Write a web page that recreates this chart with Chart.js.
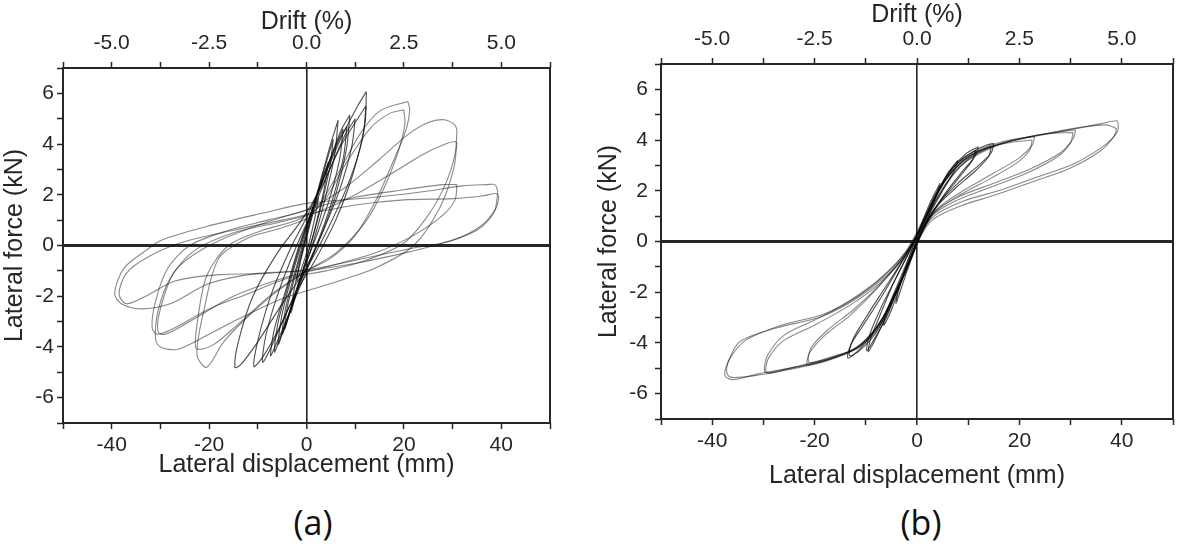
<!DOCTYPE html>
<html>
<head>
<meta charset="utf-8">
<script src="https://cdn.jsdelivr.net/npm/chart.js@4.4.1/dist/chart.umd.min.js"></script>
<style>
  html, body { margin: 0; padding: 0; background: #fff; }
  body { width: 1179px; height: 558px; position: relative; overflow: hidden; }
  .box { position: absolute; top: 0; }
  #boxA { left: 0; width: 590px; height: 484px; }
  #boxB { left: 590px; width: 589px; height: 495px; }
  .tag { position: absolute; top: 499px; font-family: 'Open Sans', sans-serif; font-size: 34px; color: #111; transform: translateX(-50%); }
</style>
</head>
<body>
<div class="box" id="boxA"><canvas id="chartA"></canvas></div>
<div class="box" id="boxB"><canvas id="chartB"></canvas></div>
<div class="tag" style="left:313px">(a)</div>
<div class="tag" style="left:921px">(b)</div>
<script>
// labelled tick values
const dispTicks = [-40, -20, 0, 20, 40];
const driftTicks = [-5.0, -2.5, 0.0, 2.5, 5.0];
const forceTicks = [-6, -4, -2, 0, 2, 4, 6];

// specimen (a): loops as [displacement (mm), force (kN)]
const a01 = [[2.5,1.9],[1.5,0.9],[0,-0.3],[-1.2,-1.0],[-2,-1.4],[-1.2,-0.6],[0,0.3],[1.4,1.3],[2.5,1.9]];
const a02 = [[4.5,3.3],[3.6,2.2],[1.5,0.5],[0,-0.5],[-2,-1.8],[-3.2,-2.65],[-2.4,-1.6],[-0.8,-0.2],[0.8,1.0],[2.8,2.4],[4.5,3.3]];
const a03 = [[6.5,4.95],[5.8,3.6],[3.5,1.6],[1,-0.1],[-1.5,-1.5],[-3.5,-2.7],[-5,-3.5],[-4.2,-2.4],[-2,-0.8],[0,0.6],[2.5,2.3],[4.8,3.9],[6.5,4.95]];
const a04 = [[8.9,5.15],[8.2,3.8],[6,2.0],[3,0.4],[0,-1.0],[-3,-2.4],[-5.5,-3.7],[-6.6,-4.2],[-5.8,-3.0],[-3.5,-1.4],[-1,0.2],[1.5,1.6],[4.5,3.2],[7,4.5],[8.9,5.15]];
const a05 = [[8.3,4.7],[7.6,3.5],[5,1.6],[2,0],[-1,-1.3],[-4,-2.9],[-6.5,-4.0],[-7.4,-4.35],[-6.6,-3.3],[-4,-1.6],[-1.5,0],[1,1.3],[4,2.9],[6.5,4.1],[8.3,4.7]];
const a06 = [[12.3,6.07],[12.0,4.8],[9.5,2.8],[6,1.0],[2,-0.5],[-2,-1.8],[-6,-3.4],[-9,-4.4],[-10.8,-4.77],[-9.8,-3.6],[-7,-1.8],[-3,0],[0,1.1],[3,2.4],[7,4.2],[10.5,5.5],[12.3,6.07]];
const a07 = [[12.2,5.5],[11.5,4.2],[8.5,2.4],[4,0.5],[0,-0.9],[-5,-2.3],[-10,-3.8],[-13.5,-4.7],[-14.7,-4.8],[-14,-3.8],[-11,-2.0],[-6,-0.3],[-1,1.0],[3,2.3],[7,3.9],[10.5,5.0],[12.2,5.5]];
const a08 = [[20.8,5.68],[21.2,5.35],[20.5,4.6],[18,3.4],[14.3,1.8],[10,0.4],[5,-0.5],[0,-1.0],[-6,-1.8],[-12,-2.8],[-17,-3.8],[-20.5,-4.8],[-22.5,-4.3],[-21,-2.5],[-18,-0.5],[-12,0.3],[-5,0.7],[1,1.2],[6.5,2.85],[11,4.4],[15,5.3],[20.8,5.68]];
const a09 = [[20,5.35],[20.2,4.8],[19,3.8],[16,2.3],[12,0.9],[6,-0.3],[0,-1.0],[-7,-1.9],[-14,-3.1],[-19,-3.9],[-22,-4.1],[-22.8,-4.0],[-22.4,-3.0],[-20.5,-1.2],[-16,0],[-9,0.6],[-2,1.0],[3,1.6],[8,3.2],[13,4.6],[17,5.2],[20,5.35]];
const a10 = [[30.9,4.5],[30.5,3.6],[28.5,2.4],[25,1.2],[20,0.1],[12,-0.6],[4,-1.0],[-4,-1.3],[-12,-1.9],[-20,-2.5],[-26.6,-3.2],[-30.5,-3.5],[-31.7,-3.25],[-31,-2.2],[-28.5,-0.9],[-24,0],[-16,0.6],[-8,1.0],[0,1.4],[8,2.3],[15,3.4],[21,4.4],[25,4.85],[28.2,4.96],[30.5,4.75],[30.9,4.5]];
const a11 = [[30.9,4.05],[30.2,3.0],[27.4,1.5],[22,0],[14,-0.9],[5,-1.5],[-5,-2.1],[-14,-2.9],[-21,-3.6],[-26.6,-4.1],[-30,-4.0],[-31,-3.7],[-30.5,-2.6],[-28,-1.3],[-23,-0.2],[-15,0.5],[-6,0.9],[2,1.3],[10,2.0],[18,2.9],[24,3.6],[28.5,4.0],[30.5,4.1],[30.9,4.05]];
const a12 = [[39.3,2.13],[38.5,1.3],[35,0.6],[28,0.1],[20,-0.3],[10,-0.7],[0,-1.0],[-10,-1.1],[-20,-1.5],[-28,-2.3],[-34,-2.5],[-38,-2.3],[-39.4,-1.88],[-37.5,-0.9],[-33,-0.2],[-29.7,0.22],[-20.5,0.75],[-8.9,1.28],[0.3,1.67],[14,1.9],[25,2.15],[32,2.35],[37,2.4],[38.7,2.4],[39.3,2.13]];
const a13 = [[39.5,1.93],[39,1.5],[36,0.8],[30,0.2],[22,-0.1],[12,-0.5],[2,-0.9],[-8,-1.1],[-18,-1.15],[-27,-1.4],[-33,-2.0],[-37,-2.3],[-38.5,-1.9],[-37,-1.1],[-33,-0.5],[-26,0.1],[-15,0.6],[-5,1.0],[2,1.3],[10,1.6],[20,1.8],[30,1.85],[36,1.95],[39,2.05],[39.5,1.93]];
const a14 = [[7.5,4.6],[6.8,3.4],[4.5,1.7],[1.5,0.1],[-1.5,-1.4],[-4,-2.9],[-5.8,-3.9],[-5.1,-2.8],[-3,-1.2],[-0.5,0.4],[2,1.9],[5,3.5],[7.5,4.6]];
const a15 = [[10,5.0],[9.3,3.9],[7,2.3],[3.5,0.6],[0,-0.9],[-3.5,-2.4],[-7,-3.9],[-9,-4.6],[-8.3,-3.5],[-5.5,-1.7],[-2,0],[1.5,1.5],[5,3.1],[8,4.4],[10,5.0]];
const a16 = [[5.5,4.2],[4.8,3.1],[2.8,1.4],[0.5,-0.2],[-1.8,-1.6],[-4.5,-3.3],[-3.8,-2.3],[-1.5,-0.6],[0.8,1.0],[3.2,2.7],[5.5,4.2]];
const a17 = [[30.9,2.4],[30.5,1.8],[28,1.2],[22,0.4],[14,-0.3],[5,-0.8],[-5,-1.3],[-15,-2.0],[-24,-3.0],[-29,-3.5],[-30.5,-3.4],[-30,-2.5],[-27,-1.0],[-20,0],[-10,0.8],[0,1.4],[10,1.9],[20,2.2],[28,2.4],[30.9,2.4]];

// specimen (b)
const b01 = [[4.5,2.3],[3.8,1.8],[2,0.9],[0,-0.1],[-2,-1.2],[-4.1,-2.43],[-3.5,-1.8],[-1.5,-0.6],[0.5,0.5],[2.5,1.5],[4.5,2.3]];
const b02 = [[8,3.2],[7.3,2.8],[5,2.0],[2,0.9],[0,0],[-2.5,-1.3],[-5,-2.7],[-6.5,-3.3],[-6,-2.8],[-4,-1.8],[-1.5,-0.6],[1,0.6],[3.5,1.7],[6,2.7],[8,3.2]];
const b03 = [[12,3.74],[11.3,3.35],[9,2.8],[5.5,1.9],[2,0.8],[0,-0.1],[-2.5,-1.3],[-5.5,-2.7],[-8,-3.8],[-9.5,-4.35],[-9,-3.8],[-7,-2.8],[-4.5,-1.6],[-1.5,-0.4],[1,0.7],[3.5,1.8],[6.5,2.8],[9.5,3.45],[12,3.74]];
const b04 = [[11.5,3.6],[10.8,3.2],[8.5,2.6],[5,1.7],[1.5,0.6],[-0.5,-0.3],[-3,-1.5],[-6,-3.0],[-8.5,-3.9],[-9.8,-4.3],[-9.3,-3.7],[-7,-2.6],[-4,-1.4],[-1,-0.2],[1.5,0.9],[4,2.0],[7,2.9],[9.5,3.35],[11.5,3.6]];
const b05 = [[15,3.87],[14.5,3.5],[12,3.0],[8,2.3],[4,1.45],[1,0.45],[-1.2,-0.6],[-4,-1.9],[-7.5,-3.3],[-11,-4.2],[-13.5,-4.6],[-13,-4.1],[-10.5,-3.3],[-7,-2.2],[-3.5,-1.0],[0,0.2],[2.5,1.3],[5,2.3],[8,3.1],[11,3.55],[13.5,3.8],[15,3.87]];
const b06 = [[14.5,3.75],[14,3.35],[11.5,2.8],[7.5,2.1],[3.5,1.3],[0.5,0.3],[-1.5,-0.8],[-4.5,-2.2],[-8,-3.6],[-11.5,-4.35],[-13.2,-4.5],[-12.6,-3.9],[-10,-3.0],[-6.5,-1.9],[-3,-0.8],[0.3,0.4],[3,1.5],[5.5,2.4],[8.5,3.1],[11.5,3.5],[14.5,3.75]];
const b07 = [[23,4.13],[22.5,3.8],[20,3.3],[15,2.7],[9,2.0],[4,1.3],[1,0.4],[-1,-0.5],[-3.5,-1.7],[-7,-3.2],[-11,-4.1],[-16,-4.55],[-20.5,-4.85],[-21.5,-4.87],[-21,-4.4],[-18,-3.7],[-13,-2.9],[-8,-1.9],[-3,-0.7],[0.5,0.4],[3,1.5],[5.5,2.4],[8.5,3.1],[12,3.6],[17,3.95],[21,4.1],[23,4.13]];
const b08 = [[22.5,4.0],[22,3.6],[19.5,3.1],[14.5,2.5],[8.5,1.85],[3.5,1.15],[0.8,0.3],[-1.2,-0.7],[-4,-2.0],[-7.5,-3.4],[-11.5,-4.2],[-16,-4.5],[-20,-4.75],[-21.2,-4.75],[-20.7,-4.2],[-17.5,-3.5],[-12.5,-2.7],[-7.5,-1.75],[-2.5,-0.55],[0.8,0.6],[3.5,1.7],[6,2.55],[9,3.2],[13,3.65],[18,3.9],[22.5,4.0]];
const b09 = [[31,4.4],[30.5,4.05],[28,3.5],[22,2.85],[15,2.3],[8,1.75],[3,1.1],[0.5,0.25],[-1,-0.5],[-3.3,-1.6],[-7,-3.1],[-11.3,-4.15],[-17,-4.6],[-24,-4.95],[-28.5,-5.15],[-29.5,-5.13],[-29,-4.6],[-26,-3.9],[-20,-3.3],[-13,-2.5],[-7,-1.6],[-2,-0.5],[1,0.6],[3,1.4],[5.5,2.25],[8.5,3.0],[12,3.5],[17,3.9],[24,4.2],[29,4.35],[31,4.4]];
const b10 = [[30.5,4.3],[30,3.9],[27.5,3.35],[21.5,2.7],[14.5,2.15],[7.5,1.6],[2.5,0.95],[0.2,0.1],[-1.3,-0.65],[-3.8,-1.8],[-7.5,-3.3],[-12,-4.25],[-18,-4.7],[-24.5,-5.0],[-28.8,-5.2],[-29.8,-5.1],[-29.2,-4.5],[-26,-3.7],[-20,-3.1],[-13,-2.35],[-7,-1.45],[-2.2,-0.4],[0.8,0.7],[3,1.55],[5.5,2.4],[9,3.15],[13,3.65],[18,3.95],[25,4.25],[30.5,4.3]];
const b11 = [[39.3,4.6],[39.2,4.35],[37,3.85],[31,3.1],[23.6,2.55],[16.4,2.03],[9.1,1.6],[3.3,1.0],[0.5,0.2],[-1,-0.6],[-3.3,-1.64],[-7,-3.1],[-11.3,-4.1],[-16.5,-4.6],[-23.7,-4.95],[-31,-5.22],[-36,-5.45],[-37.5,-5.3],[-37,-4.8],[-34.6,-3.95],[-27.3,-3.4],[-18.6,-2.96],[-11.3,-2.18],[-5.5,-1.25],[-1.5,-0.3],[1,0.6],[2.8,1.3],[5.4,2.16],[8.4,2.95],[12,3.5],[16.4,3.85],[23,4.15],[31,4.45],[36,4.65],[39.1,4.76],[39.3,4.6]];
const b12 = [[39,4.45],[38.5,4.15],[36,3.6],[30,2.9],[22.5,2.35],[15.5,1.85],[8.5,1.4],[3,0.85],[0.3,0.05],[-1.3,-0.75],[-3.8,-1.9],[-7.5,-3.3],[-12,-4.2],[-17.5,-4.7],[-25,-5.05],[-32,-5.3],[-36.5,-5.35],[-37.2,-5.1],[-36.5,-4.6],[-33.5,-3.9],[-26.5,-3.3],[-18,-2.85],[-11,-2.05],[-5.2,-1.1],[-1.2,-0.15],[1.3,0.75],[3.2,1.45],[5.8,2.3],[9,3.05],[13,3.55],[18,3.95],[25,4.25],[32,4.5],[37,4.6],[39,4.45]];

const loopsA = [a01, a02, a03, a04, a05, a06, a07, a08, a09, a10, a11, a12, a13, a14, a15, a16, a17];
const loopsB = [b01, b02, b03, b04, b05, b06, b07, b08, b09, b10, b11, b12];

const FONT = "'Liberation Sans', Arial, sans-serif";
const INK = '#262626';

// box around the plot area
const framePlugin = {
  id: 'frame',
  afterDatasetsDraw(chart) {
    const { ctx, chartArea: a } = chart;
    ctx.save();
    ctx.strokeStyle = INK;
    ctx.lineWidth = 2;
    ctx.strokeRect(a.left, a.top, a.right - a.left, a.bottom - a.top);
    ctx.restore();
  }
};

function fixSize(prop, size) {
  return scale => { scale[prop] = size; };
}

function makeChart(id, loops, lay) {
  const datasets = loops.map(loop => {
    // the small early cycles print darker in the source figure
    const reach = Math.max(...loop.map(p => Math.abs(p[0])));
    return {
      data: loop.map(p => ({ x: p[0], y: p[1] })),
      showLine: true,
      pointRadius: 0,
      borderWidth: 1.1,
      borderColor: reach < 16 ? 'rgba(10,10,10,0.72)' : 'rgba(20,20,20,0.5)',
      tension: 0.3,
      fill: false
    };
  });

  return new Chart(document.getElementById(id), {
    type: 'scatter',
    data: { datasets },
    plugins: [framePlugin],
    options: {
      responsive: true,
      maintainAspectRatio: false,
      animation: false,
      layout: { padding: { left: 0, right: lay.padRight, top: 0, bottom: 0 } },
      plugins: { legend: { display: false }, tooltip: { enabled: false } },
      scales: {
        x: {
          type: 'linear',
          position: 'bottom',
          min: -50,
          max: 50,
          afterFit: fixSize('height', lay.bottomH),
          border: { display: false },
          grid: {
            color: c => (c.tick && c.tick.value === 0 ? INK : 'rgba(0,0,0,0)'),
            lineWidth: c => (c.tick && c.tick.value === 0 ? 1.6 : 1),
            tickColor: INK,
            tickLength: 6,
            tickWidth: 1.5
          },
          ticks: {
            stepSize: 10,
            autoSkip: false,
            maxRotation: 0,
            padding: 4,
            color: INK,
            font: { family: FONT, size: 21 },
            callback: v => (dispTicks.includes(v) ? String(v) : '')
          },
          title: {
            display: true,
            text: 'Lateral displacement (mm)',
            color: INK,
            font: { family: FONT, size: 25 },
            padding: { top: 0, bottom: 4 }
          }
        },
        xTop: {
          type: 'linear',
          position: 'top',
          min: -6.25,
          max: 6.25,
          afterFit: fixSize('height', lay.topH),
          border: { display: false },
          grid: {
            drawOnChartArea: false,
            tickColor: INK,
            tickLength: 6,
            tickWidth: 1.5
          },
          ticks: {
            stepSize: 1.25,
            autoSkip: false,
            maxRotation: 0,
            padding: 6,
            color: INK,
            font: { family: FONT, size: 21 },
            callback: v => (driftTicks.some(t => Math.abs(t - v) < 1e-6) ? v.toFixed(1) : '')
          },
          title: {
            display: true,
            text: 'Drift (%)',
            color: INK,
            font: { family: FONT, size: 25 },
            padding: { top: lay.topTitlePad, bottom: 0 }
          }
        },
        y: {
          type: 'linear',
          position: 'left',
          min: -7,
          max: 7,
          afterFit: fixSize('width', lay.yWidth),
          border: { display: false },
          grid: {
            color: c => (c.tick && c.tick.value === 0 ? INK : 'rgba(0,0,0,0)'),
            lineWidth: c => (c.tick && c.tick.value === 0 ? 3 : 1),
            tickColor: INK,
            tickLength: 6,
            tickWidth: 1.5
          },
          ticks: {
            stepSize: 1,
            autoSkip: false,
            padding: lay.yTickPad,
            color: INK,
            font: { family: FONT, size: 21 },
            callback: v => (forceTicks.includes(v) ? String(v) : '')
          },
          title: {
            display: true,
            text: 'Lateral force (kN)',
            color: INK,
            font: { family: FONT, size: 25 },
            padding: { top: lay.yTitlePad, bottom: 0 }
          }
        }
      }
    }
  });
}

makeChart('chartA', loopsA, { yWidth: 63, topH: 68, bottomH: 61, padRight: 40, topTitlePad: 7, yTitlePad: 0, yTickPad: 3 });
makeChart('chartB', loopsB, { yWidth: 71, topH: 64, bottomH: 76, padRight: 2, topTitlePad: 0, yTitlePad: 4, yTickPad: 7 });
</script>
</body>
</html>
